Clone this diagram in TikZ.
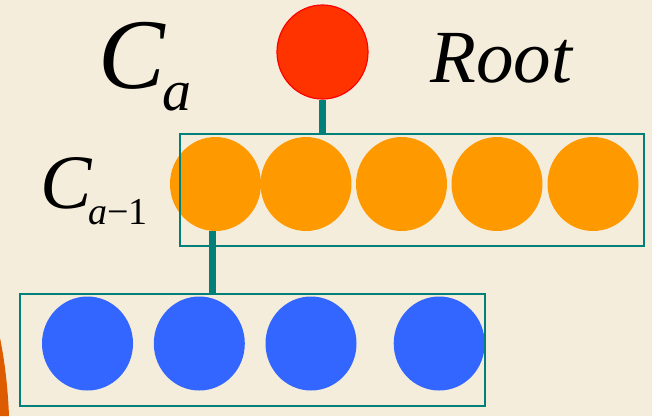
\documentclass[tikz,border=0pt]{standalone}
\usepackage{fontspec}
\setmainfont{Liberation Serif}
\usetikzlibrary{shapes.geometric}
\definecolor{bg}{RGB}{245,237,220}
\definecolor{tealc}{RGB}{0,128,120}
\definecolor{orangec}{RGB}{255,153,0}
\definecolor{bluec}{RGB}{51,102,255}
\definecolor{redc}{RGB}{255,51,0}
\definecolor{arcc}{RGB}{222,92,0}
\tikzset{
  dot/.style={ellipse, inner sep=0pt, minimum width=91pt, minimum height=94pt, draw=none},
  odot/.style={dot, fill=orangec},
  bdot/.style={dot, fill=bluec},
  rdot/.style={dot, fill=redc, draw=red, line width=1.2pt},
  groupbox/.style={draw=tealc, line width=2pt, inner sep=0pt, fill=none},
  link/.style={draw=tealc, line width=7pt},
  lbl/.style={inner sep=0pt, anchor=base west, text=black}
}
\begin{document}
\begin{tikzpicture}[x=1pt, y=-1pt]
\fill[bg] (0,0) rectangle (652,416);
\useasboundingbox (0,0) rectangle (652,416);
\fill[arcc] (0,338) .. controls (5,362) and (8,390) .. (9,416) -- (0,416) -- cycle;
% root
\node[rdot] (root) at (322.5,52) {};
% orange level
\node[odot] (o1) at (215.5,184) {};
\node[odot] (o2) at (306,184) {};
\node[odot] (o3) at (401.5,184) {};
\node[odot] (o4) at (497,184) {};
\node[odot] (o5) at (593,184) {};
% blue level
\node[bdot] (b1) at (87.5,343.5) {};
\node[bdot] (b2) at (199.3,343.5) {};
\node[bdot] (b3) at (311,343.5) {};
\node[bdot] (b4) at (439.2,343.5) {};
% boxes
\node[groupbox, minimum width=464pt, minimum height=112pt] (obox) at (412,190) {};
\node[groupbox, minimum width=465pt, minimum height=112pt] (bbox) at (252.5,349.6) {};
% connectors
\coordinate (otop) at (root.south |- obox.north);
\draw[link] (root.south) -- (otop);
\coordinate (ofoot) at ([xshift=-3pt]o1.south);
\coordinate (btop) at (ofoot |- bbox.north);
\draw[link] (ofoot) -- (btop);
% labels
\node[lbl, font=\fontsize{100}{100}\selectfont\itshape] (ca) at (98,88) {C};
\node[lbl, font=\fontsize{58}{58}\selectfont\itshape] (casub) at (162,110) {a};
\node[lbl, font=\fontsize{77}{77}\selectfont\itshape] (cb) at (40,208) {C};
\node[lbl, font=\fontsize{38}{38}\selectfont] (cbsub) at (88,224) {\textit{a}−1};
\node[lbl, font=\fontsize{75}{75}\selectfont\itshape] (rootlbl) at (430,82) {Root};
\end{tikzpicture}
\end{document}
